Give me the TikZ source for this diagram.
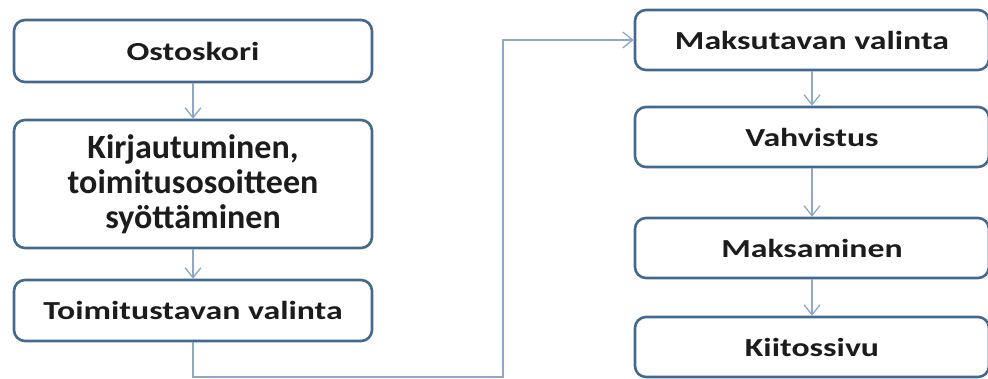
\documentclass[tikz,border=0pt]{standalone}
\usepackage{fontspec}
\setmainfont{Carlito}[FakeStretch=1.3]
\newfontfamily\korkea{Carlito}
\usetikzlibrary{arrows.meta}
\definecolor{reuna}{HTML}{44698F}
\definecolor{viiva}{HTML}{8EA8C5}
\definecolor{teksti}{HTML}{1C1C1C}
\begin{document}
	\begin{tikzpicture}
		[x=1pt,y=1pt,
		vaihe/.style={rectangle,rounded corners=11pt,draw=reuna,line width=2.6pt,fill=white,
			text=teksti,font=\fontsize{26}{34}\selectfont\bfseries,align=center,inner sep=0pt},
		vasen/.style={vaihe,minimum width=358pt},
		oikea/.style={vaihe,minimum width=354pt,minimum height=60pt},
		nuoli/.style={draw=viiva,line width=1.3pt,-{Straight Barb[length=10pt,width=16pt]}}]
		\useasboundingbox (0,0) rectangle (988,378);
		\node[vasen,minimum height=62pt] (ostoskori) at (193,327) {Ostoskori};
		\node[vasen,minimum height=128pt,font=\fontsize{34}{35}\selectfont\korkea\bfseries] (kirjautuminen) at (193,194) {Kirjautuminen,\\toimitusosoitteen\\syöttäminen};
		\node[vasen,minimum height=61pt] (toimitustapa) at (193,67.5) {Toimitustavan valinta};
		\node[oikea] (maksutapa) at (812,338) {Maksutavan valinta};
		\node[oikea] (vahvistus) at (812,241) {Vahvistus};
		\node[oikea] (maksaminen) at (812,130) {Maksaminen};
		\node[oikea] (kiitossivu) at (812,31) {Kiitossivu};
		\coordinate (kulma) at (503,1);
		\draw[nuoli] (ostoskori) -- (kirjautuminen);
		\draw[nuoli] (kirjautuminen) -- (toimitustapa);
		\draw[nuoli] (toimitustapa.south) |- (kulma) |- (maksutapa.west);
		\draw[nuoli] (maksutapa) -- (vahvistus);
		\draw[nuoli] (vahvistus) -- (maksaminen);
		\draw[nuoli] (maksaminen) -- (kiitossivu);
	\end{tikzpicture}
\end{document}
